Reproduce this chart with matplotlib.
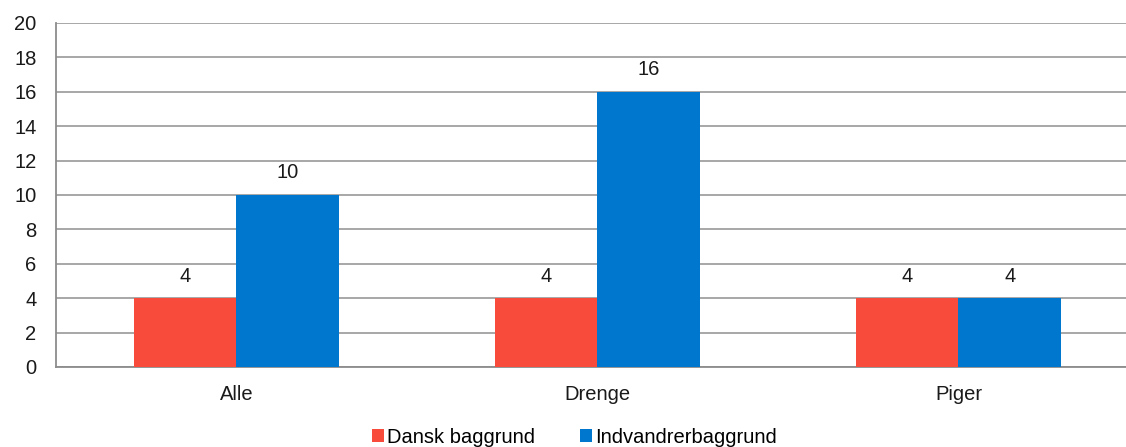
import numpy as np
import matplotlib.pyplot as plt

plt.rcParams['font.family'] = ['Liberation Sans', 'DejaVu Sans']

categories = ['Alle', 'Drenge', 'Piger']
dansk = [4, 4, 4]
indvandrer = [10, 16, 4]
series_names = ['Dansk baggrund', 'Indvandrerbaggrund']

red = '#F84B3C'
blue = '#0077CF'
fs = 14.5

fig = plt.figure(figsize=(11.26, 4.47), dpi=100)
ax = fig.add_axes([0.0497, 0.179, 0.9618, 0.7696])

x = np.arange(len(categories))
w = 0.285
b1 = ax.bar(x - w / 2, dansk, w, color=red, label=series_names[0], zorder=3)
b2 = ax.bar(x + w / 2, indvandrer, w, color=blue, label=series_names[1], zorder=3)

for bars in (b1, b2):
    for r in bars:
        ax.annotate(f'{r.get_height():g}', (r.get_x() + r.get_width() / 2, r.get_height()),
                    xytext=(0, 9), textcoords='offset points', ha='center', va='bottom',
                    fontsize=fs, color='#1a1a1a')

ax.set_xlim(-0.5, 2.5)
ax.set_ylim(0, 20)
ax.set_yticks(range(0, 21, 2))
ax.set_xticks(x)
ax.set_xticklabels(categories)
ax.tick_params(axis='both', length=0, labelsize=fs, colors='#1a1a1a')
ax.tick_params(axis='y', pad=14)
ax.tick_params(axis='x', pad=13)

ax.grid(axis='y', color='#a0a0a0', linewidth=1.3, zorder=0)
for s in ['top', 'right']:
    ax.spines[s].set_visible(False)
for s in ['left', 'bottom']:
    ax.spines[s].set_color('#8c8c8c')
    ax.spines[s].set_linewidth(1.3)

fig.legend(loc='lower center', bbox_to_anchor=(0.51, -0.04), ncol=2, frameon=False,
           fontsize=fs, handlelength=0.6, handleheight=0.6, handletextpad=0.15,
           columnspacing=2.2)

fig.savefig('out.png', dpi=100)
